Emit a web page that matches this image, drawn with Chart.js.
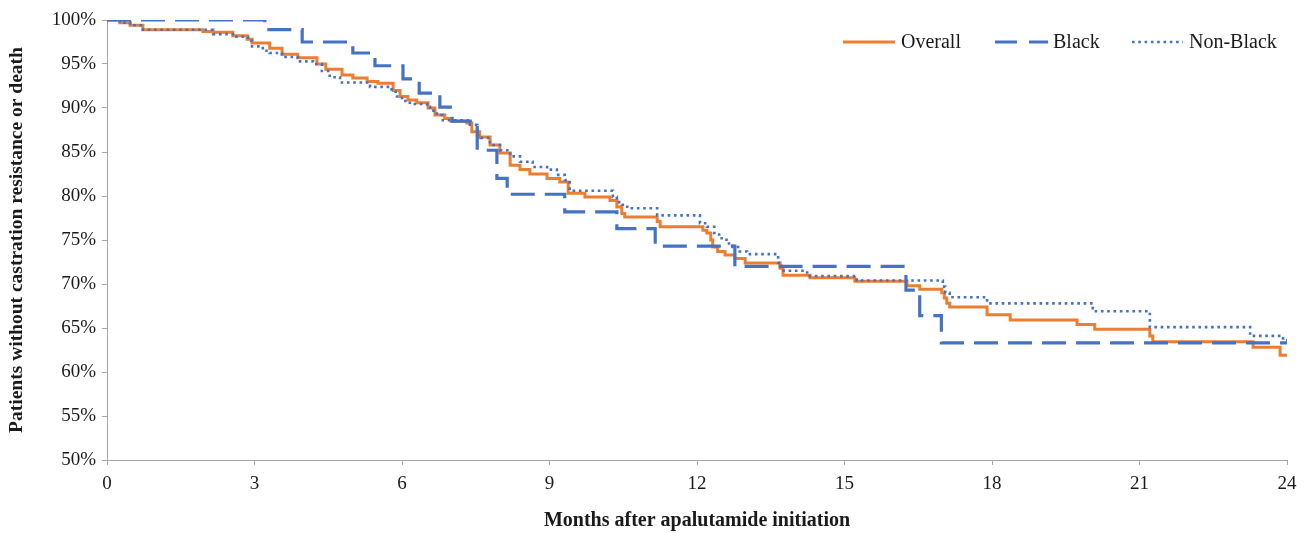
<!DOCTYPE html>
<html>
<head>
<meta charset="utf-8">
<script src="https://cdn.jsdelivr.net/npm/chart.js@4/dist/chart.umd.min.js"></script>
<style>
html,body{margin:0;padding:0;background:#fff;}
#wrap{position:relative;width:1311px;height:533px;}
</style>
</head>
<body>
<div id="wrap"><canvas id="c" width="1311" height="533"></canvas></div>
<script>
// ---- Data (months after initiation, % without castration resistance or death) ----
const overallMonths = [0,0.26,0.47,0.73,1.95,2.16,2.56,2.85,2.95,3.31,3.56,3.88,4.27,4.45,4.78,5.0,5.29,5.51,5.82,5.96,6.12,6.30,6.53,6.67,6.87,7.0,7.32,7.42,7.58,7.79,7.99,8.2,8.4,8.6,8.95,9.21,9.38,9.72,10.23,10.37,10.47,10.53,11.19,11.25,12.12,12.2,12.28,12.32,12.42,12.57,12.77,12.98,13.69,13.75,14.3,15.21,16.27,16.53,16.98,17.03,17.08,17.14,17.9,18.37,19.73,20.09,21.21,21.27,23.31,23.86,24];
const overallSurv   = [100,99.7,99.4,98.9,98.7,98.6,98.2,97.8,97.4,96.8,96.1,95.7,95.0,94.4,93.75,93.4,93.0,92.8,92.0,91.3,90.9,90.6,90.0,89.2,88.8,88.5,88.3,87.3,86.7,85.8,84.9,83.5,83.0,82.5,82.0,81.6,80.3,79.9,79.5,78.75,78.0,77.6,77.1,76.5,76.1,75.8,75.0,74.2,73.7,73.3,72.9,72.4,71.8,71.0,70.7,70.3,69.8,69.4,69.0,68.4,67.8,67.4,66.5,65.9,65.4,64.85,64.1,63.45,62.8,61.9,61.9];

const blackMonths = [0,3.21,3.97,5.0,5.45,6.02,6.35,6.77,7.02,7.53,7.93,8.14,9.31,10.37,11.15,12.77,16.25,16.53,16.97,24];
const blackSurv   = [100,98.9,97.5,96.25,94.8,93.3,91.7,90.1,88.5,85.2,82.0,80.2,78.2,76.3,74.3,72.0,69.3,66.4,63.3,63.3];

const nonBlackMonths = [0,0.26,0.47,0.73,2.16,2.56,2.87,2.95,3.17,3.31,3.56,3.88,4.19,4.37,4.53,4.74,5.35,5.79,5.9,6.0,6.16,6.51,6.57,6.71,6.83,7.38,7.53,7.6,7.79,7.99,8.2,8.4,8.66,8.95,9.15,9.31,9.41,10.29,10.37,10.47,10.58,11.19,12.06,12.2,12.35,12.45,12.6,12.73,12.87,13.02,13.65,13.73,14.24,15.25,17.0,17.05,17.14,17.9,20.05,21.21,23.25,23.92,24];
const nonBlackSurv   = [100,99.7,99.4,98.9,98.4,98.1,97.65,97.0,96.5,96.25,95.8,95.3,95.0,94.2,93.5,92.9,92.4,91.85,91.3,90.8,90.45,90.15,89.7,89.2,88.6,88.1,86.9,86.6,85.8,85.2,84.5,83.9,83.3,83.0,82.4,81.8,80.6,79.9,79.3,79.0,78.6,77.8,76.9,76.5,75.8,75.2,74.6,74.2,73.7,73.4,72.4,71.5,70.9,70.4,69.7,69.0,68.5,67.8,66.9,65.1,64.1,63.6,63.6];

const seriesLabels = ["Overall","Black","Non-Black"];
const xTickStep = 3, xMin = 0, xMax = 24;
const yTickStep = 5, yMin = 50, yMax = 100;

const toPts = (xs, ys) => xs.map((x, i) => ({x: x, y: ys[i]}));

const ORANGE = '#ED7D31', BLUE = '#4472C4', AXIS = '#a6a6a6';
const SERIF = '"Liberation Serif","Times New Roman",serif';

const legendPlugin = {
  id: 'insideLegend',
  afterDraw(chart) {
    const ctx = chart.ctx;
    const y = 42;
    const items = [
      {ds: chart.data.datasets[0], x0: 843, x1: 895, tx: 901},
      {ds: chart.data.datasets[1], x0: 995, x1: 1048, tx: 1053},
      {ds: chart.data.datasets[2], x0: 1132, x1: 1183, tx: 1189}
    ];
    ctx.save();
    items.forEach(it => {
      ctx.beginPath();
      ctx.strokeStyle = it.ds.borderColor;
      ctx.lineWidth = it.ds.borderWidth;
      ctx.setLineDash(it.ds.legendDash || []);
      ctx.lineCap = 'butt';
      ctx.moveTo(it.x0, y);
      ctx.lineTo(it.x1, y);
      ctx.stroke();
      ctx.setLineDash([]);
      ctx.fillStyle = '#1a1a1a';
      ctx.font = '20px ' + SERIF;
      ctx.textBaseline = 'middle';
      ctx.textAlign = 'left';
      ctx.fillText(it.ds.label, it.tx, y + 1);
    });
    ctx.restore();
  }
};

new Chart(document.getElementById('c'), {
  type: 'line',
  data: {
    datasets: [
      {label: seriesLabels[0], data: toPts(overallMonths, overallSurv), borderColor: ORANGE, borderWidth: 3, stepped: true, pointRadius: 0, fill: false, order: 3, legendDash: []},
      {label: seriesLabels[1], data: toPts(blackMonths, blackSurv), borderColor: BLUE, borderWidth: 3.2, borderDash: [24, 10], stepped: true, pointRadius: 0, fill: false, order: 2, legendDash: [22, 12]},
      {label: seriesLabels[2], data: toPts(nonBlackMonths, nonBlackSurv), borderColor: BLUE, borderWidth: 2.6, borderDash: [2.6, 3.7], stepped: true, pointRadius: 0, fill: false, order: 1, legendDash: [2.6, 3.7]}
    ]
  },
  options: {
    responsive: false,
    animation: false,
    layout: {padding: {left: 0, right: 24, top: 20, bottom: 0}},
    plugins: {legend: {display: false}, tooltip: {enabled: false}},
    scales: {
      x: {
        type: 'linear', min: xMin, max: xMax,
        ticks: {stepSize: xTickStep, color: '#1a1a1a', font: {family: SERIF, size: 19}, padding: 8, maxRotation: 0},
        grid: {display: true, drawOnChartArea: false, drawTicks: true, tickLength: 5, color: AXIS},
        border: {color: AXIS, width: 1},
        title: {display: true, text: 'Months after apalutamide initiation', color: '#1a1a1a', font: {family: SERIF, size: 20, weight: 'bold'}, padding: {top: 0, bottom: 0}},
        afterFit: s => { s.height = 73; }
      },
      y: {
        min: yMin, max: yMax,
        ticks: {stepSize: yTickStep, color: '#1a1a1a', font: {family: SERIF, size: 19}, padding: 6, callback: v => v + '%'},
        grid: {display: true, drawOnChartArea: false, drawTicks: true, tickLength: 5, color: AXIS},
        border: {color: AXIS, width: 1},
        title: {display: true, text: 'Patients without castration resistance or death', color: '#1a1a1a', font: {family: SERIF, size: 19.5, weight: 'bold'}, padding: {top: 5, bottom: 0}},
        afterFit: s => { s.width = 107; }
      }
    }
  },
  plugins: [legendPlugin]
});
</script>
</body>
</html>
